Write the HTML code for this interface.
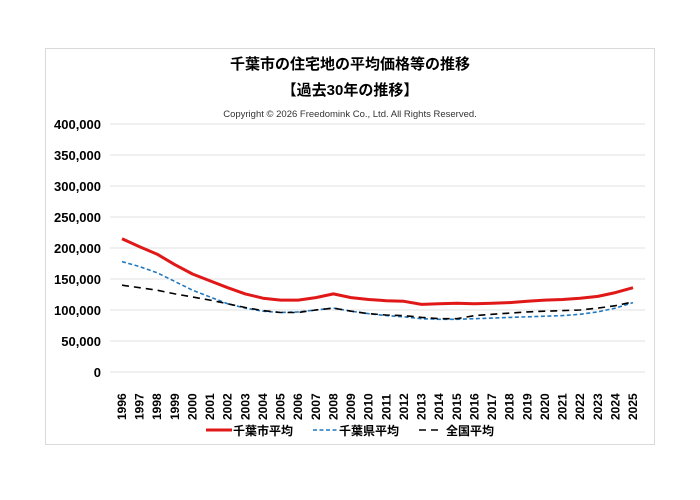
<!DOCTYPE html>
<html><head><meta charset="utf-8"><style>
body{margin:0;background:#fff;}
svg text{font-family:"Liberation Sans","Noto Sans CJK JP",sans-serif;}
</style></head><body>
<svg width="700" height="495" xmlns="http://www.w3.org/2000/svg">
<rect x="0" y="0" width="700" height="495" fill="#fff"/>
<rect x="45.5" y="48.5" width="609" height="396" fill="#fff" stroke="#d9d9d9"/>
<text x="350" y="69" text-anchor="middle" font-size="15" font-weight="bold" fill="#000">千葉市の住宅地の平均価格等の推移</text>
<text x="350" y="95" text-anchor="middle" font-size="15" font-weight="bold" fill="#000">【過去30年の推移】</text>
<text x="350" y="117" text-anchor="middle" font-size="9.5" fill="#333">Copyright © 2026 Freedomink Co., Ltd. All Rights Reserved.</text>
<g stroke="#e0e0e0" stroke-width="1">
<line x1="110" x2="645" y1="124" y2="124"/><line x1="110" x2="645" y1="155" y2="155"/>
<line x1="110" x2="645" y1="186" y2="186"/><line x1="110" x2="645" y1="217" y2="217"/>
<line x1="110" x2="645" y1="248" y2="248"/><line x1="110" x2="645" y1="279" y2="279"/>
<line x1="110" x2="645" y1="310" y2="310"/><line x1="110" x2="645" y1="341" y2="341"/>
<line x1="110" x2="645" y1="372" y2="372"/>
</g>
<g font-size="13" font-weight="bold" text-anchor="end" fill="#000">
<text x="101" y="129">400,000</text><text x="101" y="160">350,000</text><text x="101" y="191">300,000</text>
<text x="101" y="222">250,000</text><text x="101" y="253">200,000</text><text x="101" y="284">150,000</text>
<text x="101" y="315">100,000</text><text x="101" y="346">50,000</text><text x="101" y="377">0</text>
</g>
<g id="yrs" font-size="12" font-weight="bold" fill="#000"></g>
<polyline id="p1" fill="none" stroke="#e01818" stroke-width="3" stroke-linejoin="round"/>
<polyline id="p2" fill="none" stroke="#1f78c0" stroke-width="1.6" stroke-dasharray="4,2.5"/>
<polyline id="p3" fill="none" stroke="#000" stroke-width="1.6" stroke-dasharray="7,5"/>
<line x1="206" x2="232" y1="430" y2="430" stroke="#e01818" stroke-width="3"/>
<text x="233" y="435" font-size="12" font-weight="bold">千葉市平均</text>
<line x1="313" x2="337" y1="430" y2="430" stroke="#1f78c0" stroke-width="1.6" stroke-dasharray="4,2.5"/>
<text x="339" y="435" font-size="12" font-weight="bold">千葉県平均</text>
<line x1="419" x2="443" y1="430" y2="430" stroke="#000" stroke-width="1.6" stroke-dasharray="7,5"/>
<text x="446" y="435" font-size="12" font-weight="bold">全国平均</text>
</svg>
<script>
var a=[215,202,190,173,158,147,136,126,119,116,116,120,126,120,117,115,114,109,110,111,110,111,112,114,116,117,119,122,128,136];
var b=[178,170,160,146,132,121,110,103,98,96,97,100,103,98,94,91,89,86,85,85,86,87,88,89,90,91,93,97,103,112];
var c=[140,136,132,126,121,116,110,104,99,96,96,100,103,98,94,92,91,88,86,86,91,93,95,97,98,99,100,103,107,113];
function X(i){return 122+i*(511/29);}function Y(v){return 372-v*0.62;}
function pts(d){return d.map(function(v,i){return X(i).toFixed(1)+","+Y(v).toFixed(1)}).join(" ");}
document.getElementById("p1").setAttribute("points",pts(a));
document.getElementById("p2").setAttribute("points",pts(b));
document.getElementById("p3").setAttribute("points",pts(c));
var g=document.getElementById("yrs"),s="";
for(var i=0;i<30;i++){var x=X(i)+4;s+='<text transform="translate('+x.toFixed(1)+',420) rotate(-90)">'+(1996+i)+'</text>';}
g.innerHTML=s;
</script>
</body></html>
